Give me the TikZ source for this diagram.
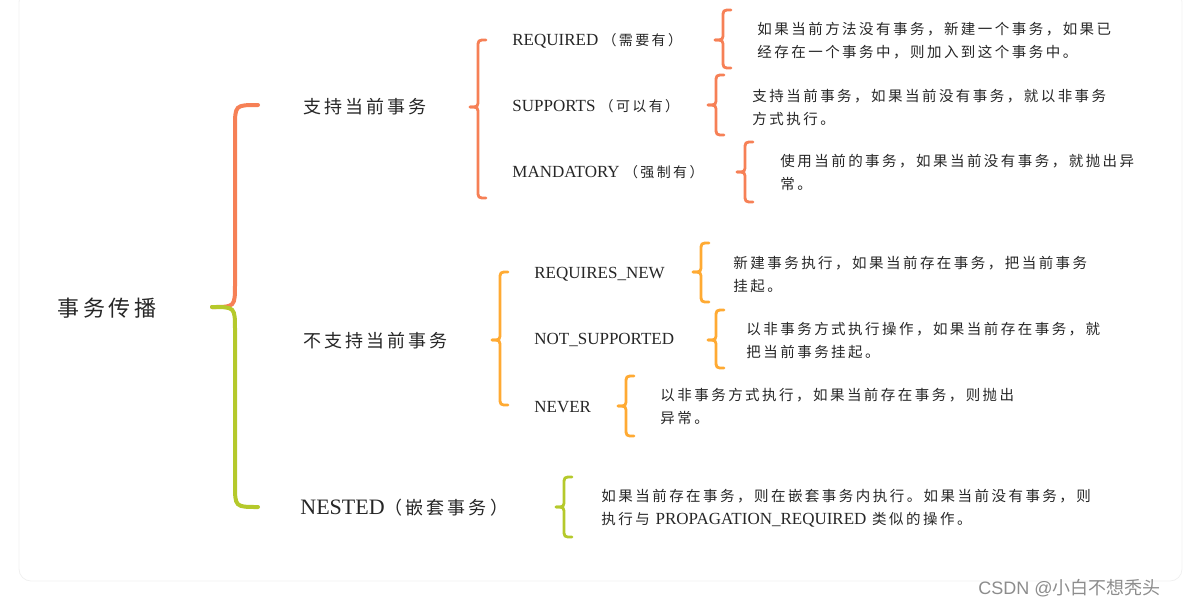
\documentclass[tikz,border=0pt]{standalone}
\usepackage{fontspec}
\setmainfont{Liberation Serif}
\newfontfamily\cjk[LetterSpace=17]{Noto Sans CJK SC}
\newfontfamily\cjkplain{Noto Sans CJK SC}
\newfontfamily\wmfont{Liberation Sans}
\definecolor{braceA}{RGB}{246,128,86}
\definecolor{braceB}{RGB}{255,170,51}
\definecolor{braceC}{RGB}{181,201,43}
\newcommand\zh[1]{{\cjk #1}}
% one half of a curly brace: colour, tip x, tip y, end y, width
\newcommand\halfbrace[5]{%
  \pgfmathsetmacro\bsgn{sign(#4-#3)}
  \draw[#1] (#2,#3) .. controls ({#2+#5},#3) .. ({#2+#5},{#3+\bsgn*#5})
    -- ({#2+#5},{#4-\bsgn*#5}) .. controls ({#2+#5},#4) .. ({#2+2*#5},#4);}
\newcommand\fullbrace[5]{\halfbrace{#1}{#2}{#3}{#4}{8}\halfbrace{#1}{#2}{#3}{#5}{8}}
\begin{document}
\begin{tikzpicture}[x=0.5pt,y=-0.5pt,
    every node/.style={inner sep=0pt,anchor=west,text=black!85},
    big/.style={line width=2pt,line cap=round},
    small/.style={line width=1.4pt,line cap=round},
    top/.style={font=\fontsize{11}{13}\selectfont},
    mid/.style={font=\fontsize{9}{11}\selectfont},
    kind/.style={font=\fontsize{8.5}{10}\selectfont},
    desc/.style={align=left,font=\fontsize{7.25}{11.5}\selectfont\cjk}]
  \useasboundingbox (0,0) rectangle (1183,606);
  \draw[black!6,rounded corners=6pt] (19,-10) rectangle (1182,581);

  % root and first level
  \node[top] (root) at (57,308) {\zh{事务传播}};
  \halfbrace{big,braceA}{212}{307}{105}{23}
  \halfbrace{big,braceC}{212}{307}{507}{23}
  \node[mid] (supp) at (303,107) {\zh{支持当前事务}};
  \node[mid] (nosupp) at (303,341) {\zh{不支持当前事务}};
  \node[mid] (nested) at (300,508) {{\fontsize{11}{13}\selectfont NESTED}\zh{（嵌套事务）}};

  % supported
  \fullbrace{small,braceA}{470}{107}{40}{198}
  \node[kind] (req) at (512,41) {REQUIRED \zh{\fontsize{7}{9}\selectfont（需要有）}};
  \node[kind] (sup) at (512,106) {SUPPORTS \zh{\fontsize{7}{9}\selectfont（可以有）}};
  \node[kind] (mand) at (512,172) {MANDATORY \zh{\fontsize{7}{9}\selectfont（强制有）}};
  \fullbrace{small,braceA}{715}{40}{10}{68}
  \fullbrace{small,braceA}{708}{105}{75}{135}
  \fullbrace{small,braceA}{737}{172}{142}{202}
  \node[desc] (reqd) at (757,40.5) {如果当前方法没有事务，新建一个事务，如果已\\经存在一个事务中，则加入到这个事务中。};
  \node[desc] (supd) at (752,107.5) {支持当前事务，如果当前没有事务，就以非事务\\方式执行。};
  \node[desc] (mandd) at (780,172.5) {使用当前的事务，如果当前没有事务，就抛出异\\常。};

  % not supported
  \fullbrace{small,braceB}{492}{340}{272}{405}
  \node[kind] (reqnew) at (534,274) {REQUIRES\_NEW};
  \node[kind] (notsup) at (534,340) {NOT\_SUPPORTED};
  \node[kind] (never) at (534,407) {NEVER};
  \fullbrace{small,braceB}{693}{272}{243}{302}
  \fullbrace{small,braceB}{708}{340}{310}{368}
  \fullbrace{small,braceB}{618}{406}{376}{436}
  \node[desc] (reqnewd) at (733,274.5) {新建事务执行，如果当前存在事务，把当前事务\\挂起。};
  \node[desc] (notsupd) at (746,340.5) {以非事务方式执行操作，如果当前存在事务，就\\把当前事务挂起。};
  \node[desc] (neverd) at (660,406.5) {以非事务方式执行，如果当前存在事务，则抛出\\异常。};

  % nested
  \fullbrace{small,braceC}{556}{507}{477}{537}
  \node[desc] (nestedd) at (601,508.5) {如果当前存在事务，则在嵌套事务内执行。如果当前没有事务，则\\执行与 {\rmfamily\fontsize{8.5}{10}\selectfont PROPAGATION\_REQUIRED} 类似的操作。};

  \node[text=black!45,font=\fontsize{9}{11}\selectfont] (mark) at (978,588) {\wmfont CSDN @\cjkplain 小白不想秃头};
\end{tikzpicture}
\end{document}
